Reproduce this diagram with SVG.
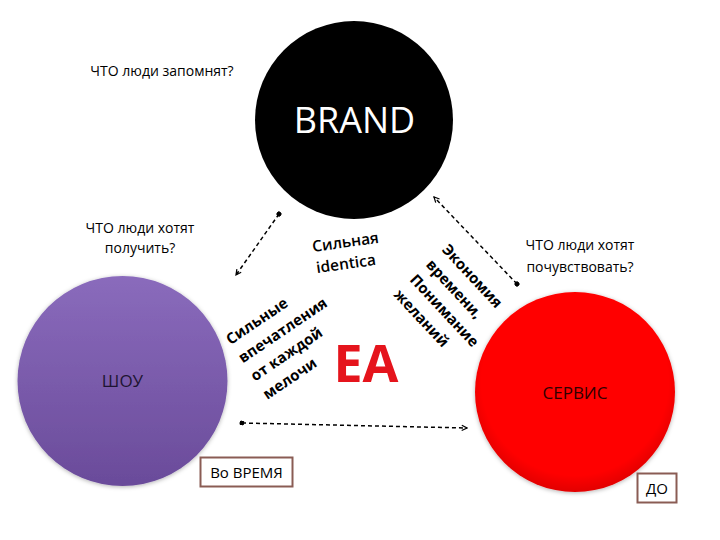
<svg xmlns="http://www.w3.org/2000/svg" width="720" height="540" viewBox="0 0 720 540">
  <defs>
    <style>
      text { font-family: "Open Sans", "Noto Sans", "DejaVu Sans", sans-serif; }
      .lbl { font-size: 14px; fill: #000; }
      .bold { font-size: 15px; font-weight: 700; fill: #000; }
      .conn { fill: none; stroke: #000; stroke-width: 1.5; stroke-dasharray: 4 3; }
      .box { fill: #fff; stroke: #8a5c54; stroke-width: 2; }
    </style>
    <linearGradient id="gPurple" x1="0" y1="0" x2="0" y2="1">
      <stop offset="0" stop-color="#8a6bbc"/>
      <stop offset="1" stop-color="#6a4b9a"/>
    </linearGradient>
    <radialGradient id="gRed" cx="0.5" cy="0.45" r="0.55">
      <stop offset="0.85" stop-color="#ff0000"/>
      <stop offset="1" stop-color="#e20000"/>
    </radialGradient>
    <filter id="soft" x="-10%" y="-10%" width="120%" height="120%">
      <feGaussianBlur in="SourceAlpha" stdDeviation="2"/>
      <feOffset dx="0" dy="1" result="b"/>
      <feFlood flood-color="#000" flood-opacity="0.3"/>
      <feComposite in2="b" operator="in"/>
      <feMerge><feMergeNode/><feMergeNode in="SourceGraphic"/></feMerge>
    </filter>
    <marker id="arr" viewBox="0 0 8 8" refX="7" refY="4" markerWidth="7" markerHeight="7" markerUnits="userSpaceOnUse" orient="auto">
      <path d="M1,1 L7,4 L1,7" fill="none" stroke="#000" stroke-width="1.4"/>
    </marker>
    <marker id="dot" viewBox="0 0 6 6" refX="3" refY="3" markerWidth="5" markerHeight="5" markerUnits="userSpaceOnUse" orient="auto">
      <circle cx="3" cy="3" r="3" fill="#000"/>
    </marker>
  </defs>

  <rect width="720" height="540" fill="#fff"/>

  <g id="brand">
    <circle cx="354" cy="120" r="99" fill="#000"/>
    <text x="354.5" y="133" text-anchor="middle" font-size="36" fill="#fff">BRAND</text>
  </g>

  <g id="show">
    <circle cx="122.5" cy="381" r="105" fill="url(#gPurple)" filter="url(#soft)"/>
    <text x="122.5" y="387" text-anchor="middle" font-size="17" fill="#1e1432">ШОУ</text>
  </g>

  <g id="service">
    <circle cx="575" cy="392" r="100" fill="url(#gRed)" filter="url(#soft)"/>
    <text x="575" y="399" text-anchor="middle" font-size="17" fill="#300000">СЕРВИС</text>
  </g>

  <g id="ea">
    <text x="366" y="382" text-anchor="middle" font-size="52" font-weight="700" fill="#e5141c">EA</text>
  </g>

  <g id="connectors">
    <line class="conn" x1="242" y1="423" x2="467" y2="428" marker-start="url(#dot)" marker-end="url(#arr)"/>
    <line class="conn" x1="279" y1="214" x2="236" y2="275" marker-start="url(#dot)" marker-end="url(#arr)"/>
    <line class="conn" x1="517" y1="284" x2="434" y2="197" marker-start="url(#dot)" marker-end="url(#arr)"/>
  </g>

  <g id="question-remember">
    <text class="lbl" x="162" y="76" text-anchor="middle">ЧТО люди запомнят?</text>
  </g>
  <g id="question-get">
    <text class="lbl" x="140" y="233" text-anchor="middle">ЧТО люди хотят</text>
    <text class="lbl" x="140" y="253" text-anchor="middle">получить?</text>
  </g>
  <g id="question-feel">
    <text class="lbl" x="580" y="250" text-anchor="middle">ЧТО люди хотят</text>
    <text class="lbl" x="580" y="272" text-anchor="middle">почувствовать?</text>
  </g>

  <g id="identity" transform="rotate(-8 313 252)">
    <text x="313" y="252" font-size="15.5" font-weight="600">Сильная</text>
    <text x="314" y="273.5" font-size="15.5" font-weight="600">identica</text>
  </g>

  <g id="impressions" transform="rotate(-34)">
    <text class="bold" x="-2" y="415">Сильные</text>
    <text class="bold" x="-2" y="437">впечатления</text>
    <text class="bold" x="-2" y="459">от каждой</text>
    <text class="bold" x="-2" y="481">мелочи</text>
  </g>

  <g id="economy" transform="rotate(47)">
    <text class="bold" x="484" y="-152">Экономия</text>
    <text class="bold" x="484" y="-130">времени,</text>
    <text class="bold" x="484" y="-108">Понимание</text>
    <text class="bold" x="484" y="-86">желаний</text>
  </g>

  <g id="during">
    <rect class="box" x="200.5" y="457.5" width="92" height="29"/>
    <text x="246.5" y="478" text-anchor="middle" font-size="15">Во ВРЕМЯ</text>
  </g>

  <g id="before">
    <rect class="box" x="637.5" y="473.5" width="39" height="29"/>
    <text x="657" y="494" text-anchor="middle" font-size="15">ДО</text>
  </g>
</svg>
